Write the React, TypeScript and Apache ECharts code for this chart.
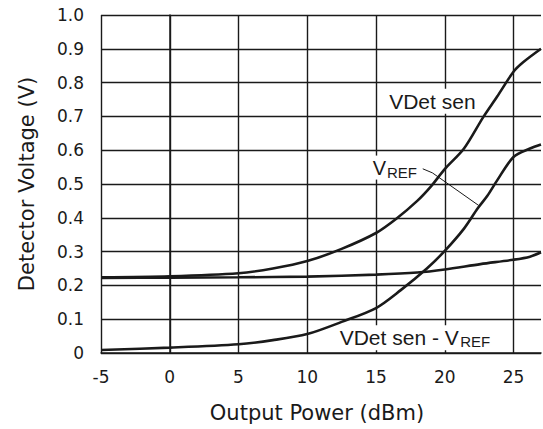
import React, { useEffect, useRef } from "react";
import * as echarts from "echarts";

// Output power (dBm) / detector voltage (V)
const powerSen = [-5, 0, 5, 7.5, 10, 12.5, 15, 16.5, 18, 19, 20, 21.4, 22.8, 23.8, 25, 25.7, 27];
const vdetSen = [0.224, 0.227, 0.236, 0.25, 0.272, 0.308, 0.355, 0.398, 0.45, 0.493, 0.544, 0.605, 0.698, 0.758, 0.832, 0.86, 0.9];

const powerRef = [-5, 0, 5, 10, 15, 18, 20, 22.6, 25, 26.2, 27];
const vRef = [0.222, 0.223, 0.224, 0.226, 0.232, 0.238, 0.247, 0.263, 0.276, 0.285, 0.298];

const powerDiff = [-5, 0, 5, 7.5, 10, 12.5, 15, 16.8, 18.7, 20, 21.4, 22.4, 23.1, 23.8, 25, 26.2, 27];
const vDiff = [0.009, 0.016, 0.026, 0.038, 0.056, 0.092, 0.133, 0.186, 0.25, 0.302, 0.368, 0.428, 0.465, 0.51, 0.58, 0.605, 0.617];

// leader line from the V_REF label
const leaderX = [18.4, 19.1, 22.45];
const leaderY = [0.545, 0.533, 0.437];

const xTicks = [-5, 0, 5, 10, 15, 20, 25];

const zip = (xs: number[], ys: number[]) => xs.map((x, i) => [x, ys[i]]);

// annotation anchors in data space (left / middle of text)
const annotations = [
  { text: "VDet sen", at: [15.96, 0.745], size: 21 },
  { text: "V", at: [14.77, 0.5486], size: 20 },
  { text: "REF", at: [15.8, 0.5347], size: 15 },
  { text: "VDet sen - V", at: [12.36, 0.0452], size: 21 },
  { text: "REF", at: [21.12, 0.0331], size: 15 },
];

const INK = "#1a1a1a";

export default function App() {
  const ref = useRef<HTMLDivElement>(null);
  useEffect(() => {
    const chart = echarts.init(ref.current!, null, { renderer: "svg" });
    const curve = (name: string, data: number[][], width: number) => ({
      name,
      type: "line",
      data,
      smooth: width > 1 ? 0.3 : false,
      showSymbol: false,
      symbol: "none",
      lineStyle: { color: INK, width },
      z: 3,
    });
    chart.setOption({
      animation: false,
      grid: { left: 101, right: 2, top: 15, bottom: 76 },
      xAxis: {
        type: "value",
        min: -5,
        max: 27,
        interval: 5,
        name: "Output Power (dBm)",
        nameLocation: "middle",
        nameGap: 49,
        nameTextStyle: { fontFamily: "DejaVu Sans", fontSize: 21, color: INK, padding: [0, 8, 0, 0] },
        axisLine: { show: true, onZero: false, lineStyle: { color: INK, width: 1.5 } },
        axisTick: { show: false },
        axisLabel: {
          fontFamily: "DejaVu Sans",
          fontSize: 17,
          color: INK,
          margin: 15,
          showMaxLabel: false,
          formatter: (v: number) => (xTicks.includes(v) ? String(v) : ""),
        },
        splitLine: { show: true, showMaxLine: false, lineStyle: { color: INK, width: 1.4 } },
      },
      yAxis: {
        type: "value",
        min: 0,
        max: 1,
        interval: 0.1,
        name: "Detector Voltage (V)",
        nameLocation: "middle",
        nameGap: 64,
        nameTextStyle: { fontFamily: "DejaVu Sans", fontSize: 21, color: INK },
        axisLine: { show: true, lineStyle: { color: INK, width: 1.5 } },
        axisTick: { show: false },
        axisLabel: {
          fontFamily: "DejaVu Sans",
          fontSize: 17,
          color: INK,
          margin: 17,
          formatter: (v: number) => (Math.abs(v) < 1e-9 ? "0" : v.toFixed(1)),
        },
        splitLine: { show: true, lineStyle: { color: INK, width: 1.4 } },
      },
      series: [
        curve("VDet sen", zip(powerSen, vdetSen), 2.6),
        curve("VREF", zip(powerRef, vRef), 2.6),
        curve("VDet sen - VREF", zip(powerDiff, vDiff), 2.6),
        curve("leader", zip(leaderX, leaderY), 1),
      ],
    });
    const graphic = annotations.map((a) => {
      const p = chart.convertToPixel({ gridIndex: 0 }, a.at) as number[];
      return {
        type: "text",
        x: p[0],
        y: p[1],
        z: 10,
        style: {
          text: a.text,
          fontFamily: "Liberation Sans",
          fontSize: a.size,
          fill: INK,
          align: "left",
          verticalAlign: "middle",
          backgroundColor: "#fff",
          padding: [2, 0],
        },
      };
    });
    chart.setOption({ graphic });
    return () => chart.dispose();
  }, []);
  return (
    <div
      ref={ref}
      style={{ position: "fixed", left: 0, top: 0, width: 543, height: 429, background: "#fff" }}
    />
  );
}
